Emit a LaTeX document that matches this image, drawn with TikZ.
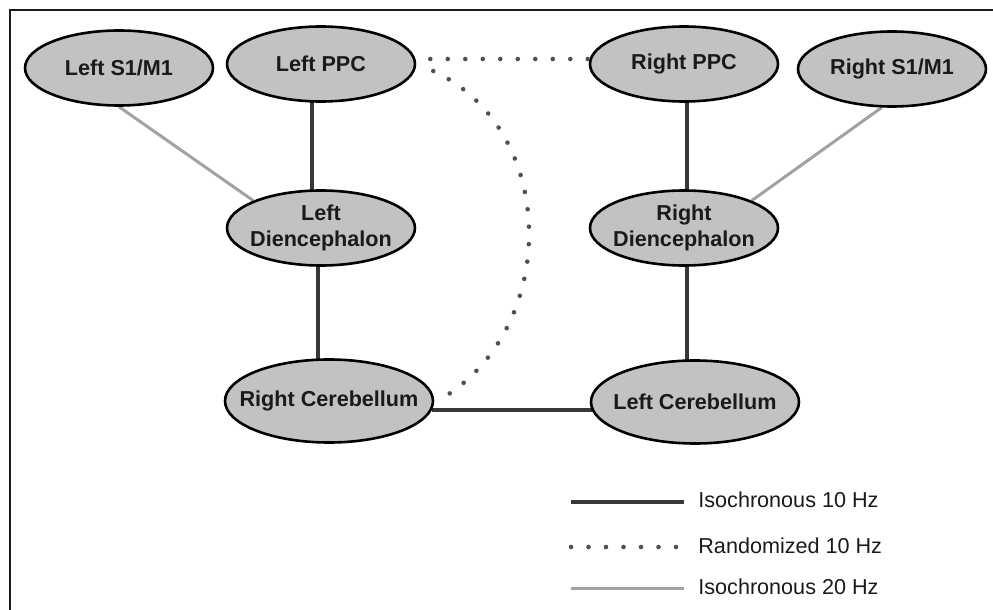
\documentclass[tikz,border=0pt]{standalone}
\usepackage{fontspec}
\setmainfont{Liberation Sans}
\usepackage{xcolor}
\definecolor{ink}{HTML}{1A1A1A}
\definecolor{region}{HTML}{C2C2C2}
\definecolor{isodark}{HTML}{383838}
\definecolor{isolight}{HTML}{A2A2A2}
\definecolor{dotgray}{HTML}{505050}
\usetikzlibrary{shapes.geometric,calc,backgrounds}

\begin{document}
\begin{tikzpicture}[
      x=0.5pt, y=-0.5pt,
      every node/.style={font=\fontsize{10.8}{12.6}\selectfont, text=ink},
      area/.style={
        ellipse, draw=black, fill=region, line width=1.3pt,
        align=center, inner xsep=-40pt, inner ysep=0pt,
        minimum width=94pt, minimum height=37.5pt,
        font=\bfseries\fontsize{10.8}{12.6}\selectfont
      },
      wide/.style={minimum width=104pt, minimum height=41.5pt},
      iso/.style={line width=1.7pt, color=isodark},
      isofast/.style={line width=1.5pt, color=isolight},
      rand/.style={line width=2.3pt, color=dotgray, line cap=round, dash pattern=on 0pt off 8.75pt},
      key/.style={anchor=base west, inner sep=0pt},
    ]
      \useasboundingbox (0,0) rectangle (993,610);
      \draw[line width=1.4pt, color=ink] (10,610) -- (10,10) -- (993,10);

      \node[area] (ls) at (119,68) {Left S1/M1};
      \node[area] (lppc) at (321,64) {Left PPC};
      \node[area] (rppc) at (684,64) {Right PPC};
      \node[area] (rs) at (892,69) {Right S1/M1};
      \node[area] (ld) at (321,228) {Left\\Diencephalon};
      \node[area] (rd) at (684,228) {Right\\Diencephalon};
      \node[area, wide] (rc) at (329,401) {Right Cerebellum};
      \node[area, wide] (lc) at (695,402) {Left Cerebellum};

      \begin{scope}[on background layer]
        \draw[isofast] (ls.south) -- (ld.158);
        \draw[isofast] (rs.255) -- (rd.22);
        \draw[iso] ($(lppc)+(-9,0)$) -- ($(ld)+(-9,0)$);
        \draw[iso] ($(ld)+(-3,0)$) -- ($(ld |- rc)+(-3,0)$);
        \draw[iso] ($(rppc)+(3,0)$) -- ($(rd)+(3,0)$);
        \draw[iso] ($(rd)+(3,0)$) -- ($(rd |- lc)+(3,0)$);
        \draw[iso] (rc.-5) -- (rc.-5 -| lc);
      \end{scope}

      \draw[rand, shorten <=7pt] ([yshift=2.5pt]lppc.east) -- ([yshift=2.5pt]rppc.west);
      \draw[rand] ([shift={(17,7)}]lppc.east) .. controls (560,130) and (560,330) .. ([shift={(5,-1)}]rc.east);

      \node[key] (k1) at (698,508) {Isochronous 10 Hz};
      \node[key] (k2) at (698,553) {Randomized 10 Hz};
      \node[key] (k3) at (698,595) {Isochronous 20 Hz};
      \coordinate (s1) at (571,502);
      \coordinate (s2) at (571,547);
      \coordinate (s3) at (571,589);
      \draw[iso, shorten >=7pt] (s1) -- (s1 -| k1.west);
      \draw[rand, shorten >=7pt] (s2) -- (s2 -| k2.west);
      \draw[isofast, shorten >=7pt] (s3) -- (s3 -| k3.west);
    \end{tikzpicture}
\end{document}
